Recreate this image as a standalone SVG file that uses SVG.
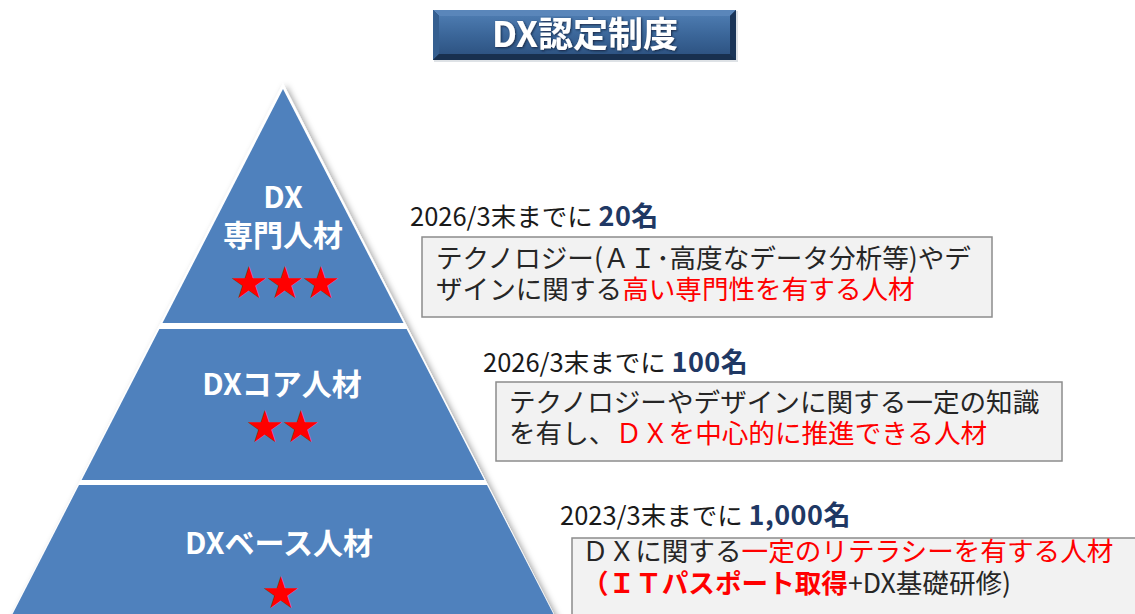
<svg xmlns="http://www.w3.org/2000/svg" width="1135" height="614" viewBox="0 0 1135 614">
<defs>
<style>
.jp{font-family:"Noto Sans CJK JP","Liberation Sans",sans-serif;}
.lvl{fill:#FFFFFF;font-weight:bold;font-size:30px;text-anchor:middle;}
.star{fill:#FF0000;font-size:36px;text-anchor:middle;}
.band{fill:#4F81BD;}
.lbl{fill:#1A1A1A;font-size:25.5px;}
.num{fill:#1F3864;font-weight:bold;font-size:27px;letter-spacing:0.5px;}
.box{fill:#F2F2F2;stroke:#8C8C8C;stroke-width:1.5;}
.bt{fill:#262626;font-size:26.6px;}
.red{fill:#FF0000;}
</style>
<linearGradient id="tg" x1="0" y1="0" x2="0" y2="1">
<stop offset="0" stop-color="#4C7AAF"/>
<stop offset="0.5" stop-color="#3B6699"/>
<stop offset="1" stop-color="#2E5483"/>
</linearGradient>
<filter id="sh" x="-10%" y="-10%" width="130%" height="130%">
<feDropShadow dx="3" dy="2" stdDeviation="3" flood-color="#000" flood-opacity="0.35"/>
</filter>
<filter id="tsh" x="-10%" y="-20%" width="130%" height="150%">
<feDropShadow dx="1" dy="1" stdDeviation="1" flood-color="#0A1A30" flood-opacity="0.8"/>
</filter>
</defs>

<g id="title">
<rect x="434" y="11" width="304" height="51" fill="#C8CED6" opacity="0.6"/>
<rect x="433" y="10" width="303" height="50" fill="#1E3C62"/>
<polygon points="433,10 736,10 730,16 439,16" fill="#5A86BA"/>
<polygon points="433,10 439,16 439,54 433,60" fill="#355F90"/>
<polygon points="736,10 736,60 730,54 730,16" fill="#1A3558"/>
<polygon points="433,60 736,60 730,54 439,54" fill="#18304F"/>
<rect x="439" y="16" width="291" height="38" fill="url(#tg)"/>
<text class="jp" x="585" y="47" font-size="35" font-weight="bold" fill="#FFFFFF" text-anchor="middle" filter="url(#tsh)">DX認定制度</text>
</g>

<g id="pyramid">
<polygon points="283,83 9,620 557,620" fill="#FFFFFF" filter="url(#sh)"/>
<g id="level-expert">
<polygon class="band" points="283,89 162.5,323 403.5,323"/>
<text class="jp lvl" x="283" y="208">DX</text>
<text class="jp lvl" x="283" y="246">専門人材</text>
<text class="jp star" x="285" y="296">★★★</text>
</g>
<g id="level-core">
<polygon class="band" points="159.4,329 406.6,329 484.4,480 81.6,480"/>
<text class="jp lvl" x="282" y="395">DXコア人材</text>
<text class="jp star" x="283" y="440">★★</text>
</g>
<g id="level-base">
<polygon class="band" points="79,485 487,485 556.5,620 9.5,620"/>
<text class="jp lvl" x="279" y="554">DXベース人材</text>
<text class="jp star" x="281" y="606">★</text>
</g>
</g>

<g id="desc-expert">
<text class="jp lbl" x="410" y="226">2026/3末までに <tspan class="num">20名</tspan></text>
<rect class="box" x="422" y="237" width="570" height="80"/>
<text class="jp bt" x="436" y="268">テクノロジー(ＡＩ･高度なデータ分析等)やデ</text>
<text class="jp bt" x="436" y="299">ザインに関する<tspan class="red">高い専門性を有する人材</tspan></text>
</g>

<g id="desc-core">
<text class="jp lbl" x="483" y="372">2026/3末までに <tspan class="num">100名</tspan></text>
<rect class="box" x="496" y="382" width="566" height="79"/>
<text class="jp bt" x="509" y="412">テクノロジーやデザインに関する一定の知識</text>
<text class="jp bt" x="509" y="443">を有し、<tspan class="red">ＤＸを中心的に推進できる人材</tspan></text>
</g>

<g id="desc-base">
<text class="jp lbl" x="560" y="525">2023/3末までに <tspan class="num">1,000名</tspan></text>
<rect class="box" x="572" y="538" width="570" height="82"/>
<text class="jp bt" x="582" y="561">ＤＸに関する<tspan class="red">一定のリテラシーを有する人材</tspan></text>
<text class="jp bt" x="582" y="593"><tspan class="red" font-weight="bold">（ＩＴパスポート取得</tspan>+DX基礎研修)</text>
</g>

<g id="connectors"></g>
</svg>
